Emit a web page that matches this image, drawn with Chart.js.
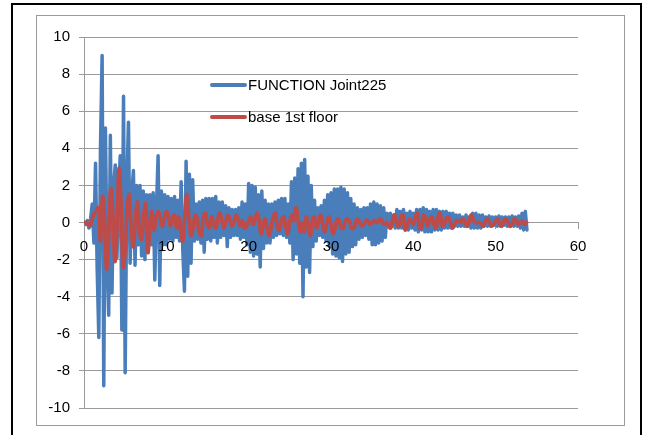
<!DOCTYPE html>
<html>
<head>
<meta charset="utf-8">
<script src="https://cdn.jsdelivr.net/npm/chart.js@4.4.1/dist/chart.umd.min.js"></script>
<style>
    html, body { margin: 0; padding: 0; background: #fff; }
    #wrap { position: relative; width: 652px; height: 435px; overflow: hidden; }
    #outer { position: absolute; left: 11px; top: 3px; width: 631px; height: 450px; border: 2px solid #000; box-sizing: border-box; pointer-events: none; }
    #inner { position: absolute; left: 36px; top: 15px; width: 589px; height: 411px; border: 1px solid #9a9a9a; box-sizing: border-box; pointer-events: none; }
    canvas { position: absolute; left: 0; top: 0; }
</style>
</head>
<body>
<div id="wrap">
    <div id="outer"></div>
    <div id="inner"></div>
    <canvas id="quakeChart" width="652" height="435"></canvas>
</div>
<script>
const FONT = "'Liberation Sans', Arial, sans-serif"

// sampling step of each record (s)
const jointStep = 0.2
const baseStep = 0.25

// FUNCTION Joint225, one value every 0.2 s from t = 0
const joint225 = [
    0, -0.1, 0.1, -0.3, 0.2, 1.0, -1.1, 3.2, -2.5, -6.2,
    4.0, 9.0, -8.8, 5.1, -2.0, -5.0, 4.7, -3.8, 2.0, 3.1,
    -1.9, 1.5, 3.6, -5.8, 6.8, -8.1, 2.0, 5.4, -2.2, 1.5,
    2.8, -2.3, 2.0, -1.2, 2.0, -1.8, 1.7, -2.0, 1.5, -1.6,
    1.5, -1.2, 1.6, -3.1, 0.8, 3.6, -3.4, 1.7, -1.2, 1.5,
    -1.2, 1.4, -0.9, 1.3, -1.0, 1.4, -0.8, 1.2, -1.0, 2.2,
    -1.5, -3.7, 3.3, -2.9, 2.6, -2.2, 2.3, -1.0, 1.0, -0.9,
    1.1, -1.1, 1.2, -1.6, 1.3, -0.9, 1.3, -1.0, 1.3, -0.8,
    1.4, -1.1, 1.1, -0.8, 1.1, -0.7, 0.9, -1.3, 0.8, -0.8,
    0.7, -0.7, 0.7, -0.7, 0.8, -0.9, 1.1, -0.8, 1.0, -1.2,
    2.1, -1.6, 2.0, -1.8, 1.9, -1.7, 1.5, -2.4, 1.7, -1.4,
    1.2, -1.1, 1.0, -1.1, 1.0, -0.8, 1.1, -0.7, 1.2, -0.6,
    1.3, -0.7, 1.3, -0.8, 1.0, -1.1, 2.2, -2.0, 2.4, -1.7,
    2.9, -2.2, 3.2, -4.0, 3.4, -2.4, 2.5, -2.7, 2.0, -1.3,
    1.2, -1.0, 0.8, -0.7, 0.9, -0.8, 1.2, -1.0, 1.5, -1.3,
    1.6, -1.7, 1.8, -1.8, 1.8, -1.9, 1.9, -2.1, 1.8, -1.7,
    1.6, -1.6, 1.3, -1.3, 1.0, -1.2, 0.8, -0.9, 0.7, -0.8,
    0.8, -0.7, 0.8, -0.9, 1.0, -1.2, 1.1, -1.2, 1.0, -1.1,
    0.9, -1.0, 0.8, -0.8, 0.5, -0.2, 0.5, -0.2, 0.4, -0.3,
    0.7, -0.3, 0.6, -0.3, 0.7, -0.2, 0.5, -0.4, 0.6, -0.3,
    0.5, -0.4, 0.7, -0.5, 0.7, -0.4, 0.8, -0.5, 0.7, -0.5,
    0.6, -0.5, 0.7, -0.4, 0.7, -0.4, 0.6, -0.4, 0.6, -0.3,
    0.6, -0.3, 0.5, -0.3, 0.5, -0.2, 0.4, -0.2, 0.4, -0.2,
    0.3, -0.2, 0.4, -0.2, 0.3, -0.3, 0.5, -0.3, 0.5, -0.3,
    0.4, -0.3, 0.4, -0.2, 0.3, -0.2, 0.35, -0.2, 0.3, -0.15,
    0.3, -0.2, 0.35, -0.2, 0.3, -0.15, 0.3, -0.2, 0.3, -0.2,
    0.35, -0.2, 0.3, -0.2, 0.35, -0.3, 0.5, -0.4, 0.6, -0.4
]

// base 1st floor, one value every 0.25 s from t = 0
const base1stFloor = [
    0, 0, -0.1, -0.2, 0.2, 0.5, 0.6, 0.8,
    -1.0, 1.4, 0.2, -2.5, -0.8, 1.8, 0.5, -2.1,
    -0.3, 2.9, 1.0, -2.4, -1.5, 0.8, 1.5, -0.5,
    -1.3, 0.2, 1.1, -0.6, -0.9, 0.4, 1.0, -1.6,
    -0.3, 0.6, -0.4, 0.2, 0.6, 0.3, -0.2, 0.2,
    0.6, 0.3, -0.2, 0.3, 0.4, -0.3, 0.3, -0.4,
    -1.0, 0.4, 1.5, 0.2, -0.7, -0.3, 0.4, 0.2,
    -0.6, -0.7, 0.3, 0.5, -0.1, -0.3, 0.3, -0.1,
    -0.3, 0.2, 0.5, 0.1, -0.3, 0.1, 0.4, 0.1,
    -0.2, 0.1, 0.4, 0.1, -0.2, 0.1, -0.3, -0.2,
    0.1, 0.3, -0.1, 0.1, 0.5, 0.2, -0.6, -0.2,
    0.2, -0.3, -0.7, -0.2, 0.3, 0.5, -0.3, -0.4,
    0.1, 0.3, -0.2, -0.6, 0.1, 0.4, 0.1, 0.8,
    0.1, -0.5, 0.0, -0.5, 0.3, -0.2, -0.7, 0.1,
    0.3, -0.3, 0.0, 0.4, -0.1, -0.5, 0.0, 0.3,
    -0.1, -0.6, -0.3, 0.2, 0.1, -0.3, -0.3, 0.1,
    0.2, 0.1, -0.3, -0.3, 0.0, 0.2, 0.0, -0.2,
    -0.1, 0.1, 0.1, -0.1, 0.0, 0.1, 0.0, 0.1,
    0.2, 0.0, -0.1, 0.0, -0.2, -0.3, 0.2, 0.4,
    -0.1, -0.2, 0.3, 0.4, -0.4, -0.2, 0.2, 0.1,
    -0.1, 0.3, 0.5, -0.3, -0.3, 0.4, 0.2, -0.2,
    0.2, 0.3, -0.1, -0.3, 0.3, 0.5, -0.2, -0.1,
    0.2, 0.3, 0.0, -0.3, -0.1, 0.1, 0.1, 0.0,
    0.2, 0.1, -0.2, 0.0, 0.4, 0.2, 0.0, 0.0,
    0.0, -0.1, -0.2, 0.1, 0.2, 0.0, -0.2, -0.1,
    0.1, 0.2, -0.1, -0.2, 0.1, 0.2, 0.0, -0.2,
    -0.1, 0.2, 0.1, -0.1, 0.0, 0.1, -0.1, 0.0
]

const xTickValues = [0, 10, 20, 30, 40, 50, 60]
const yTickValues = [-10, -8, -6, -4, -2, 0, 2, 4, 6, 8, 10]

const seriesLabels = ["FUNCTION Joint225", "base 1st floor"]

function toPoints(values, step) {
    return values.map((v, i) => ({ x: +(i * step).toFixed(2), y: v }))
}

// legend sitting inside the plot, like the Excel original
const innerLegend = {
    id: "innerLegend",
    afterDraw(chart) {
        const ctx = chart.ctx
        const left = chart.chartArea.left + 128
        const top = chart.chartArea.top + 48

        ctx.save()
        chart.data.datasets.forEach((ds, i) => {
            const y = top + i * 32

            ctx.strokeStyle = ds.borderColor
            ctx.lineWidth = 4
            ctx.lineCap = "round"
            ctx.beginPath()
            ctx.moveTo(left, y)
            ctx.lineTo(left + 33, y)
            ctx.stroke()

            ctx.fillStyle = "#000"
            ctx.font = "15px " + FONT
            ctx.textBaseline = "middle"
            ctx.fillText(ds.label, left + 36, y + 1)
        })
        ctx.restore()
    }
}

new Chart(
    document.getElementById("quakeChart"),
    {
        type: "line",

        data: {
            datasets: [
                {
                    label: seriesLabels[0],
                    data: toPoints(joint225, jointStep),
                    borderColor: "#4a7ebb",
                    borderWidth: 3.5,
                    borderJoinStyle: "round",
                    borderCapStyle: "round",
                    pointRadius: 0,
                    tension: 0,
                    order: 1
                },
                {
                    label: seriesLabels[1],
                    data: toPoints(base1stFloor, baseStep),
                    borderColor: "#be4b48",
                    borderWidth: 3.75,
                    borderJoinStyle: "round",
                    borderCapStyle: "round",
                    pointRadius: 0,
                    tension: 0.4,
                    order: 0
                }
            ]
        },

        options: {
            responsive: false,
            animation: false,
            layout: {
                padding: { left: 0, top: 37, right: 74, bottom: 27 }
            },
            plugins: {
                legend: { display: false },
                tooltip: { enabled: false }
            },
            scales: {
                x: {
                    type: "linear",
                    position: { y: 0 },
                    min: 0,
                    max: 60,
                    afterBuildTicks: scale => {
                        scale.ticks = xTickValues.map(v => ({ value: v }))
                    },
                    afterFit: scale => {
                        scale.height = 0
                    },
                    ticks: {
                        z: 1,
                        color: "#000",
                        font: { family: FONT, size: 15 },
                        padding: 9,
                        maxRotation: 0
                    },
                    grid: {
                        drawOnChartArea: false,
                        drawTicks: true,
                        tickLength: 6,
                        color: "#9a9a9a"
                    },
                    border: {
                        display: true,
                        color: "#9a9a9a"
                    }
                },
                y: {
                    type: "linear",
                    min: -10,
                    max: 10,
                    afterBuildTicks: scale => {
                        scale.ticks = yTickValues.map(v => ({ value: v }))
                    },
                    afterFit: scale => {
                        scale.width = 84
                    },
                    ticks: {
                        color: "#000",
                        font: { family: FONT, size: 15 },
                        padding: 9
                    },
                    grid: {
                        color: "#9a9a9a",
                        tickLength: 5
                    },
                    border: {
                        display: true,
                        color: "#9a9a9a"
                    }
                }
            }
        },

        plugins: [innerLegend]
    }
)
</script>
</body>
</html>
